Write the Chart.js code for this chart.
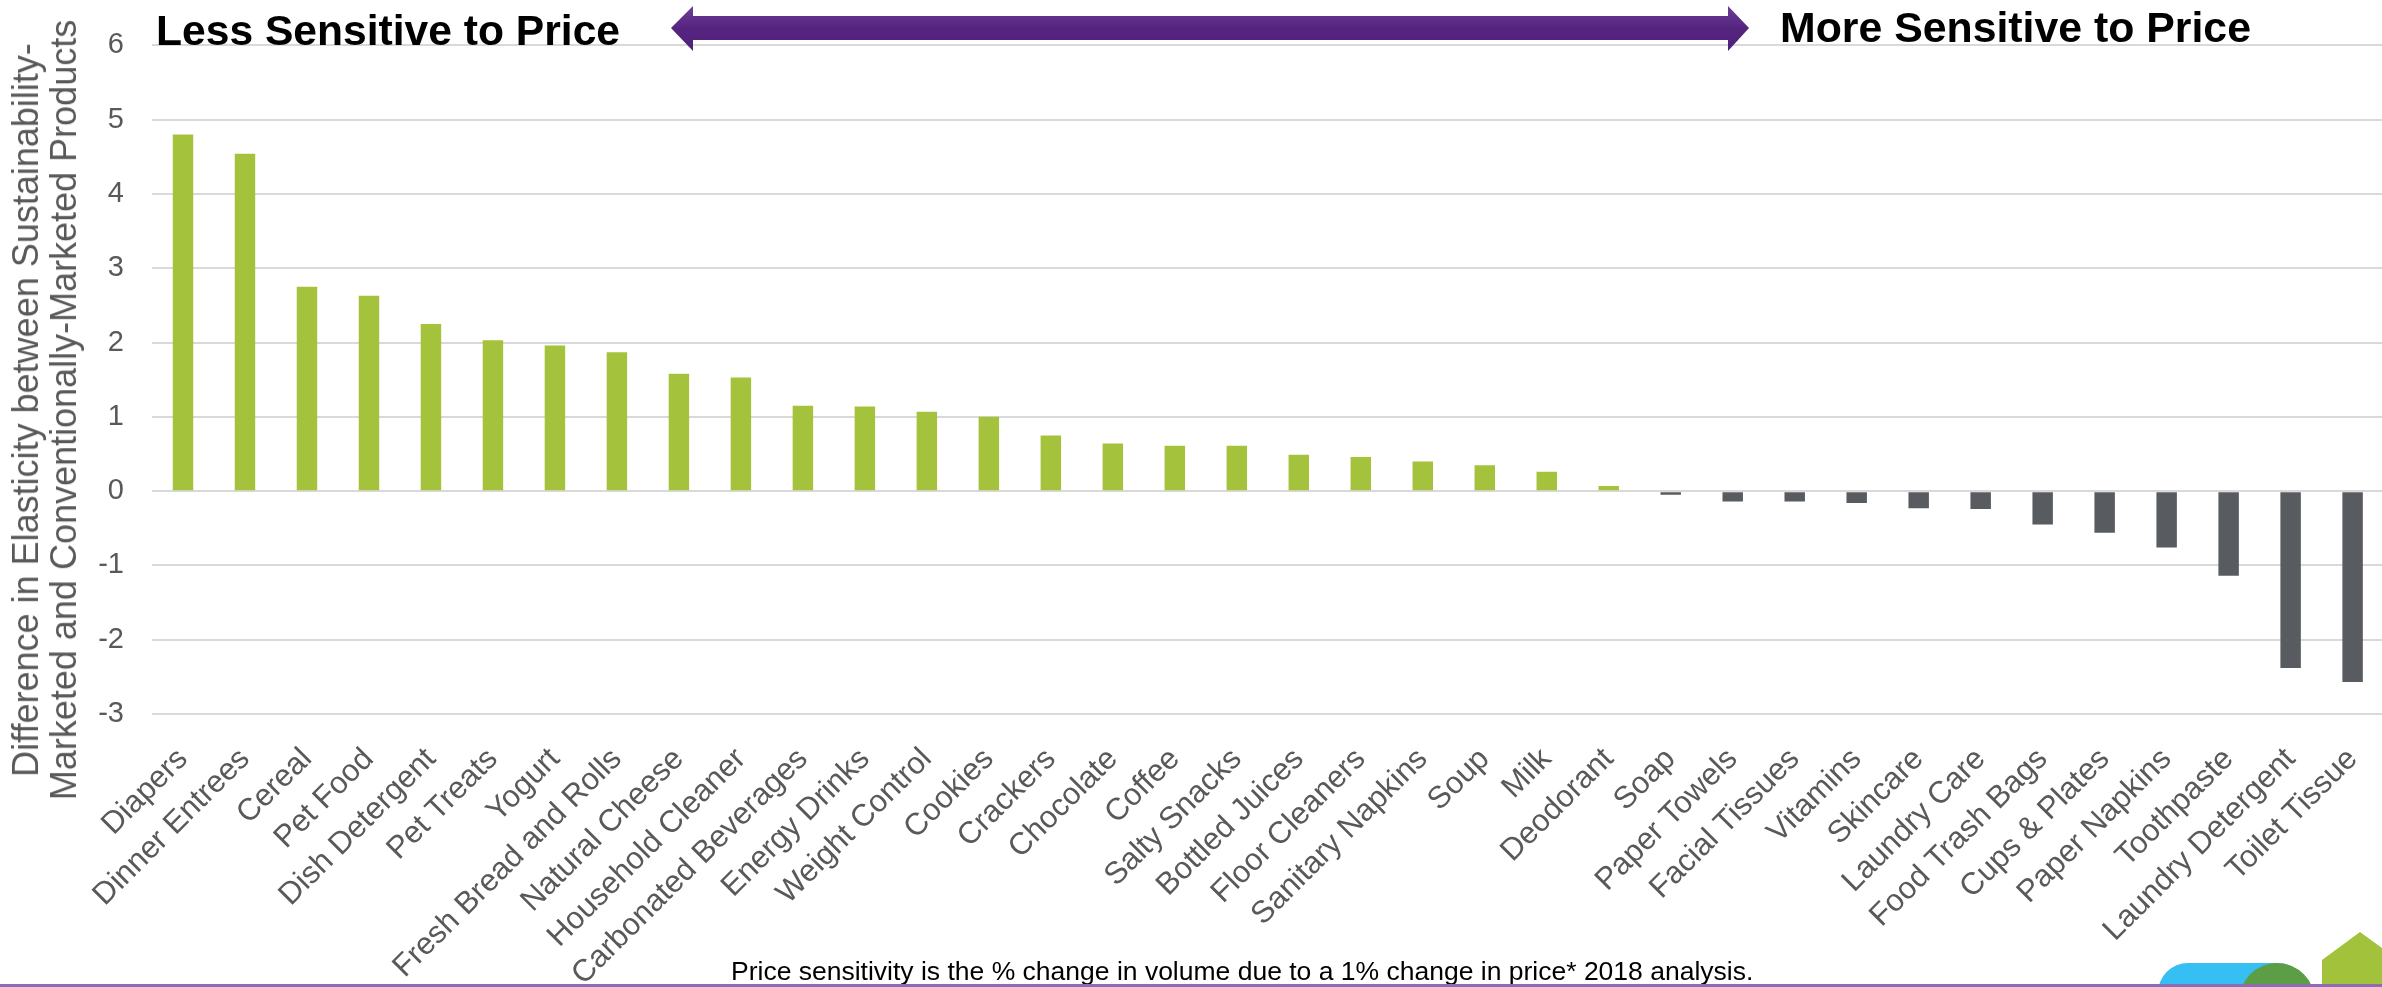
<!DOCTYPE html>
<html><head><meta charset="utf-8">
<script src="https://cdn.jsdelivr.net/npm/chart.js@4.4.1/dist/chart.umd.min.js"></script>
<style>
html,body{margin:0;padding:0;background:#fff;overflow:hidden;width:2382px;height:987px;}
#wrap{position:absolute;left:0;top:0;width:2406px;height:987px;}
.t{position:absolute;font-family:"Liberation Sans",Arial,sans-serif;white-space:nowrap;}
#ytitle{left:45px;top:410px;transform:translate(-50%,-50%) rotate(-90deg);font-size:36px;line-height:38px;color:#595959;text-align:center;}
#lt{left:156px;top:6px;font-size:42.6px;font-weight:bold;color:#000;}
#rt{left:1780px;top:3px;font-size:42.8px;font-weight:bold;color:#000;}
#fn{left:731px;top:956px;font-size:26.5px;color:#000;}
#bl{position:absolute;left:0;top:984px;width:2382px;height:3px;background:#8e6bb5;}
.lg{position:absolute;}
</style></head><body>
<div id="wrap"><canvas id="c" width="2406" height="987"></canvas></div>
<div class="t" id="ytitle">Difference in Elasticity between Sustainability-<br>Marketed and Conventionally-Marketed Products</div>
<div class="t" id="lt">Less Sensitive to Price</div>
<div class="t" id="rt">More Sensitive to Price</div>
<svg style="position:absolute;left:0;top:0" width="2382" height="60">
<defs><linearGradient id="g" x1="0" y1="0" x2="0" y2="1"><stop offset="0" stop-color="#6b3f98"/><stop offset="0.5" stop-color="#55247f"/><stop offset="1" stop-color="#4f2179"/></linearGradient></defs>
<polygon points="671,28 693,6 693,16 1728,16 1728,6 1749,28 1728,51 1728,40 693,40 693,51" fill="url(#g)"/>
</svg>
<div class="t" id="fn">Price sensitivity is the % change in volume due to a 1% change in price* 2018 analysis.</div>
<div class="lg" style="left:2158px;top:963px;width:150px;height:60px;border-radius:30px;background:#35bff2;"></div>
<div class="lg" style="left:2239px;top:963px;width:76px;height:60px;border-radius:38px 38px 0 0;background:#5c9e45;"></div>
<svg style="position:absolute;left:2322px;top:930px" width="60" height="57"><polygon points="0,30 38,2 60,18 60,57 0,57" fill="#a3c23c"/></svg>
<div id="bl"></div>
<script>
const categories = ["Diapers","Dinner Entrees","Cereal","Pet Food","Dish Detergent","Pet Treats","Yogurt","Fresh Bread and Rolls","Natural Cheese","Household Cleaner","Carbonated Beverages","Energy Drinks","Weight Control","Cookies","Crackers","Chocolate","Coffee","Salty Snacks","Bottled Juices","Floor Cleaners","Sanitary Napkins","Soup","Milk","Deodorant","Soap","Paper Towels","Facial Tissues","Vitamins","Skincare","Laundry Care","Food Trash Bags","Cups & Plates","Paper Napkins","Toothpaste","Laundry Detergent","Toilet Tissue"];
const values = [4.80,4.54,2.75,2.63,2.25,2.03,1.96,1.87,1.58,1.53,1.15,1.14,1.07,1.00,0.75,0.64,0.61,0.61,0.49,0.46,0.40,0.35,0.26,0.07,-0.05,-0.14,-0.14,-0.16,-0.23,-0.24,-0.45,-0.56,-0.76,-1.14,-2.38,-2.57];
const yTickLabels = ["-3","-2","-1","0","1","2","3","4","5","6"];
const yMin = -3, yMax = 6;
const posColor = "#a4c23c", negColor = "#585b60";

new Chart(document.getElementById('c'), {
  type: 'bar',
  data: { labels: categories, datasets: [{ data: values,
    backgroundColor: values.map(v => v >= 0 ? posColor : negColor),
    barPercentage: 0.33, categoryPercentage: 1.0 }] },
  options: {
    responsive: false, animation: false, devicePixelRatio: 1,
    layout: { padding: { top: 40, left: 0, right: 6, bottom: 0 } },
    plugins: { legend: { display: false }, tooltip: { enabled: false } },
    scales: {
      x: {
        grid: { display: false, drawTicks: false },
        border: { display: false },
        ticks: { color: '#595959', font: { family: 'Liberation Sans', size: 31 }, minRotation: 45, maxRotation: 45, autoSkip: false, padding: 27 },
        afterFit: s => { s.height = 273; }
      },
      y: {
        min: yMin, max: yMax,
        grid: { color: '#d9d9d9', lineWidth: 2, drawTicks: false },
        border: { display: false },
        ticks: { stepSize: 1, color: '#595959', font: { family: 'Liberation Sans', size: 29 }, padding: 28,
          callback: (v) => yTickLabels[v - yMin] },
        afterFit: s => { s.width = 152; }
      }
    }
  }
});
</script>
</body></html>
